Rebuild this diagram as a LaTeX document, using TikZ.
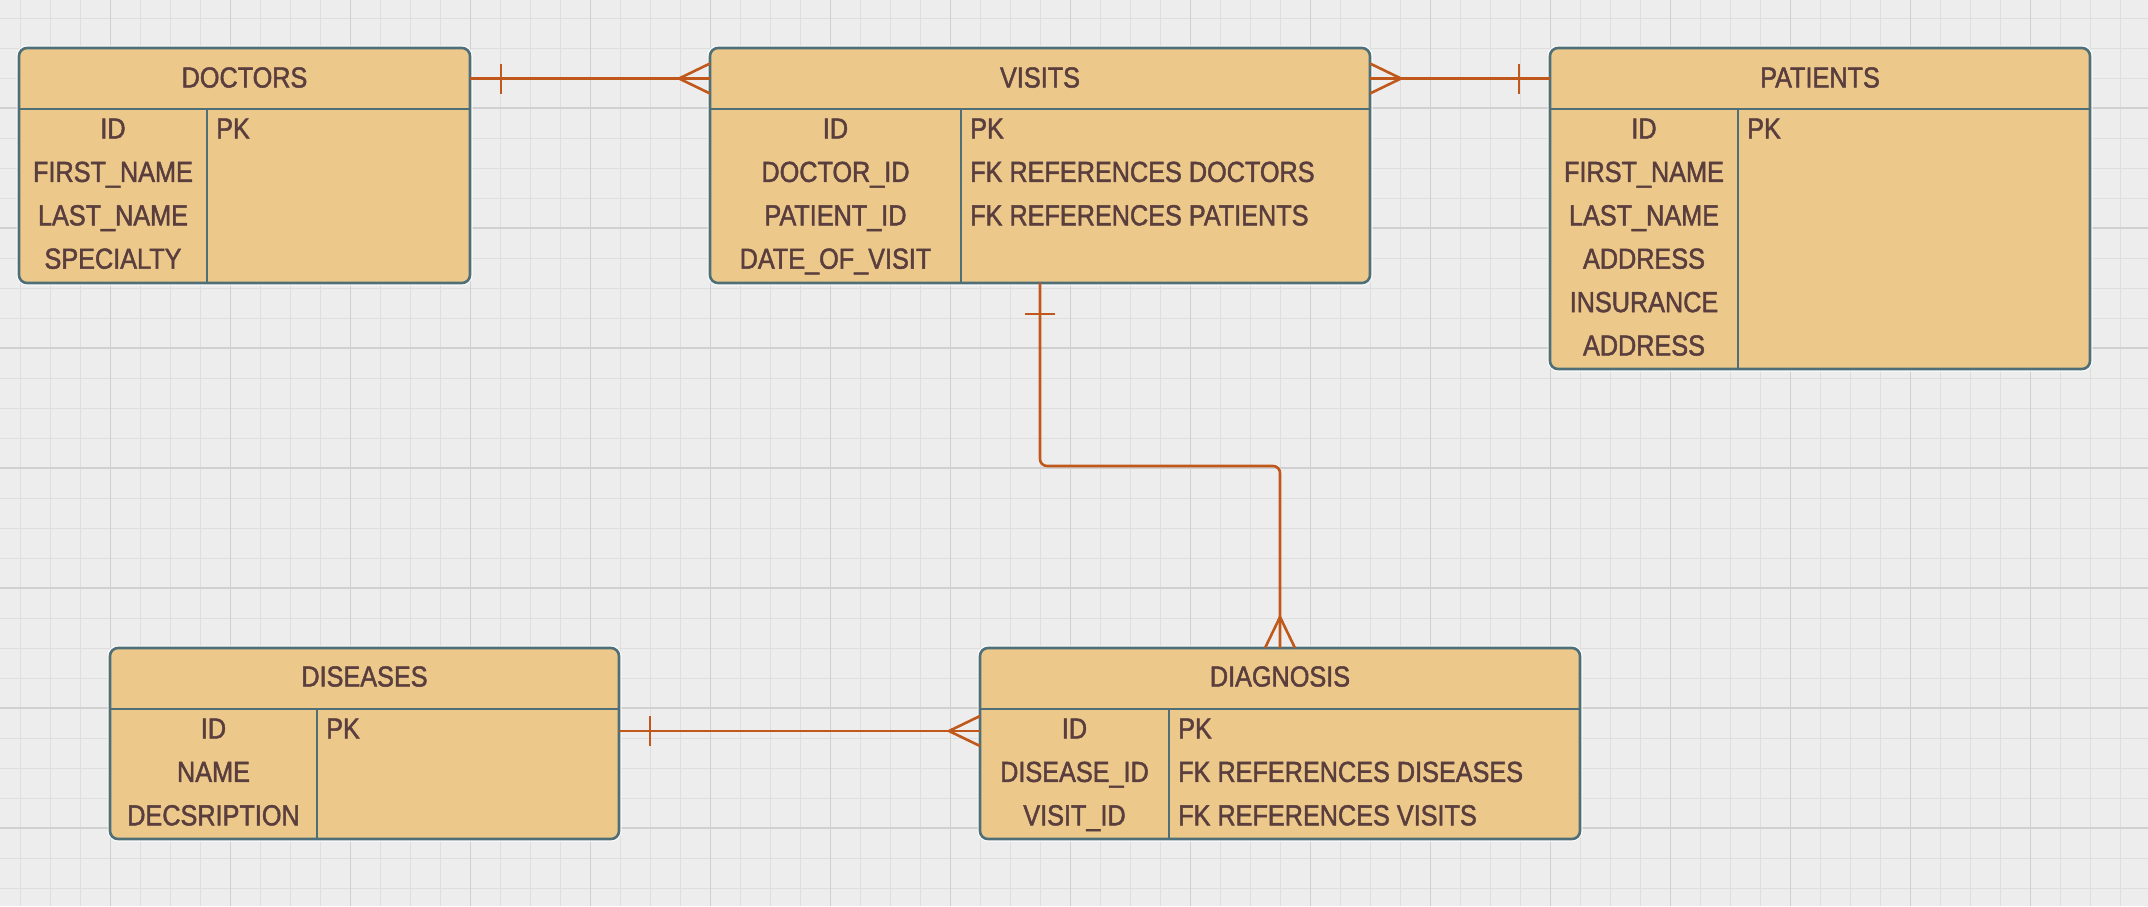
\documentclass[tikz,border=0pt]{standalone}
\usepackage{fontspec}
\setmainfont{Liberation Sans}[FakeStretch=0.87,FakeBold=1.6]
\usetikzlibrary{calc}
\definecolor{bgc}{HTML}{EDEDED}
\definecolor{gridminor}{HTML}{DEDEDE}
\definecolor{gridmajor}{HTML}{D0D0D0}
\definecolor{boxfill}{HTML}{ECC98B}
\definecolor{boxline}{HTML}{4F6F78}
\definecolor{txt}{HTML}{5A3E3E}
\definecolor{relc}{HTML}{C0581C}
\begin{document}
\begin{tikzpicture}[x=1pt,y=-1pt,
  tablebox/.style={draw=boxline, fill=boxfill, line width=2.6pt, rounded corners=8pt,
     inner sep=0pt, outer sep=0pt, anchor=north west,
     preaction={draw=white, line width=5pt, opacity=0.8}},
  hdrcell/.style={inner sep=0pt, outer sep=0pt, anchor=north west},
  sepline/.style={draw=boxline, line width=2.6pt},
  lbl/.style={text=txt, font=\fontsize{29}{29}\selectfont, inner sep=0pt,
     text height=21pt, text depth=0pt, anchor=center},
  lblL/.style={lbl, anchor=west},
  relline/.style={draw=relc, line width=2.6pt},
  gminor/.style={draw=gridminor, line width=1pt},
  gmajor/.style={draw=gridmajor, line width=1.1pt},
]
% background and grid
\fill[bgc] (0,0) rectangle (2148,906);
\useasboundingbox (0,0) rectangle (2148,906);
\foreach \k in {0,...,71} { \draw[gminor] ({20.7+30*\k},0) -- ({20.7+30*\k},906); }
\foreach \k in {0,...,30} { \draw[gminor] (0,{18+30*\k}) -- (2148,{18+30*\k}); }
\foreach \k in {0,...,17} { \draw[gmajor] ({110.7+120*\k},0) -- ({110.7+120*\k},906); }
\foreach \k in {0,...,7} { \draw[gmajor] (0,{108+120*\k}) -- (2148,{108+120*\k}); }

% ---------- DOCTORS ----------
\node[tablebox, minimum width=451pt, minimum height=235pt] (doctors) at (19,48) {};
\node[hdrcell, minimum width=451pt, minimum height=61pt] (doctors-h) at (19,48) {};
\draw[sepline] (doctors-h.south west) -- (doctors-h.south east);
\draw[sepline] (207,109) -- (207,283);
\node[lbl] (doctors-t) at (244.5,77) {DOCTORS};
\foreach \t [count=\i] in {ID,FIRST\_NAME,LAST\_NAME,SPECIALTY}
  \node[lbl] (doctors-k\i) at (113,{128+43.4*(\i-1)}) {\t};
\node[lblL] (doctors-v1) at (216,128) {PK};

% ---------- VISITS ----------
\node[tablebox, minimum width=660pt, minimum height=235pt] (visits) at (710,48) {};
\node[hdrcell, minimum width=660pt, minimum height=61pt] (visits-h) at (710,48) {};
\draw[sepline] (visits-h.south west) -- (visits-h.south east);
\draw[sepline] (961,109) -- (961,283);
\node[lbl] (visits-t) at (1040,77) {VISITS};
\foreach \t [count=\i] in {ID,DOCTOR\_ID,PATIENT\_ID,DATE\_OF\_VISIT}
  \node[lbl] (visits-k\i) at (835.5,{128+43.4*(\i-1)}) {\t};
\foreach \t [count=\i] in {PK,FK REFERENCES DOCTORS,FK REFERENCES PATIENTS}
  \node[lblL] (visits-v\i) at (970,{128+43.4*(\i-1)}) {\t};

% ---------- PATIENTS ----------
\node[tablebox, minimum width=540pt, minimum height=321pt] (patients) at (1550,48) {};
\node[hdrcell, minimum width=540pt, minimum height=61pt] (patients-h) at (1550,48) {};
\draw[sepline] (patients-h.south west) -- (patients-h.south east);
\draw[sepline] (1738,109) -- (1738,369);
\node[lbl] (patients-t) at (1820,77) {PATIENTS};
\foreach \t [count=\i] in {ID,FIRST\_NAME,LAST\_NAME,ADDRESS,INSURANCE,ADDRESS}
  \node[lbl] (patients-k\i) at (1644,{128+43.4*(\i-1)}) {\t};
\node[lblL] (patients-v1) at (1747,128) {PK};

% ---------- DISEASES ----------
\node[tablebox, minimum width=509pt, minimum height=191pt] (diseases) at (110,648) {};
\node[hdrcell, minimum width=509pt, minimum height=61pt] (diseases-h) at (110,648) {};
\draw[sepline] (diseases-h.south west) -- (diseases-h.south east);
\draw[sepline] (317,709) -- (317,839);
\node[lbl] (diseases-t) at (364.5,676) {DISEASES};
\foreach \t [count=\i] in {ID,NAME,DECSRIPTION}
  \node[lbl] (diseases-k\i) at (213.5,{728+43.4*(\i-1)}) {\t};
\node[lblL] (diseases-v1) at (326,728) {PK};

% ---------- DIAGNOSIS ----------
\node[tablebox, minimum width=600pt, minimum height=191pt] (diagnosis) at (980,648) {};
\node[hdrcell, minimum width=600pt, minimum height=61pt] (diagnosis-h) at (980,648) {};
\draw[sepline] (diagnosis-h.south west) -- (diagnosis-h.south east);
\draw[sepline] (1169,709) -- (1169,839);
\node[lbl] (diagnosis-t) at (1280,676) {DIAGNOSIS};
\foreach \t [count=\i] in {ID,DISEASE\_ID,VISIT\_ID}
  \node[lbl] (diagnosis-k\i) at (1074.5,{728+43.4*(\i-1)}) {\t};
\foreach \t [count=\i] in {PK,FK REFERENCES DISEASES,FK REFERENCES VISITS}
  \node[lblL] (diagnosis-v\i) at (1178,{728+43.4*(\i-1)}) {\t};

% ---------- relationships ----------
% DOCTORS (one) -- VISITS (many)
\draw[relline] (doctors-h.east) -- (visits-h.west);
\draw[relline] ($(doctors-h.east)+(31,-15)$) -- ($(doctors-h.east)+(31,15)$);
\draw[relline] ($(visits-h.west)+(0,-15)$) -- ($(visits-h.west)+(-31,0)$) -- ($(visits-h.west)+(0,15)$);
% VISITS (many) -- PATIENTS (one)
\draw[relline] (visits-h.east) -- (patients-h.west);
\draw[relline] ($(visits-h.east)+(0,-15)$) -- ($(visits-h.east)+(31,0)$) -- ($(visits-h.east)+(0,15)$);
\draw[relline] ($(patients-h.west)+(-31,-15)$) -- ($(patients-h.west)+(-31,15)$);
% VISITS (one) -- DIAGNOSIS (many)
\draw[relline, rounded corners=7pt] (visits.south) -- ++(0,183) -| (diagnosis.north);
\draw[relline] ($(visits.south)+(-15,31)$) -- ($(visits.south)+(15,31)$);
\draw[relline] ($(diagnosis.north)+(-15,0)$) -- ($(diagnosis.north)+(0,-31)$) -- ($(diagnosis.north)+(15,0)$);
% DISEASES (one) -- DIAGNOSIS (many)
\coordinate (dzrow) at (0,731);
\draw[relline] (diseases.east |- dzrow) -- (diagnosis.west |- dzrow);
\draw[relline] ($(diseases.east |- dzrow)+(31,-15)$) -- ($(diseases.east |- dzrow)+(31,15)$);
\draw[relline] ($(diagnosis.west |- dzrow)+(0,-15)$) -- ($(diagnosis.west |- dzrow)+(-31,0)$) -- ($(diagnosis.west |- dzrow)+(0,15)$);
\end{tikzpicture}
\end{document}
